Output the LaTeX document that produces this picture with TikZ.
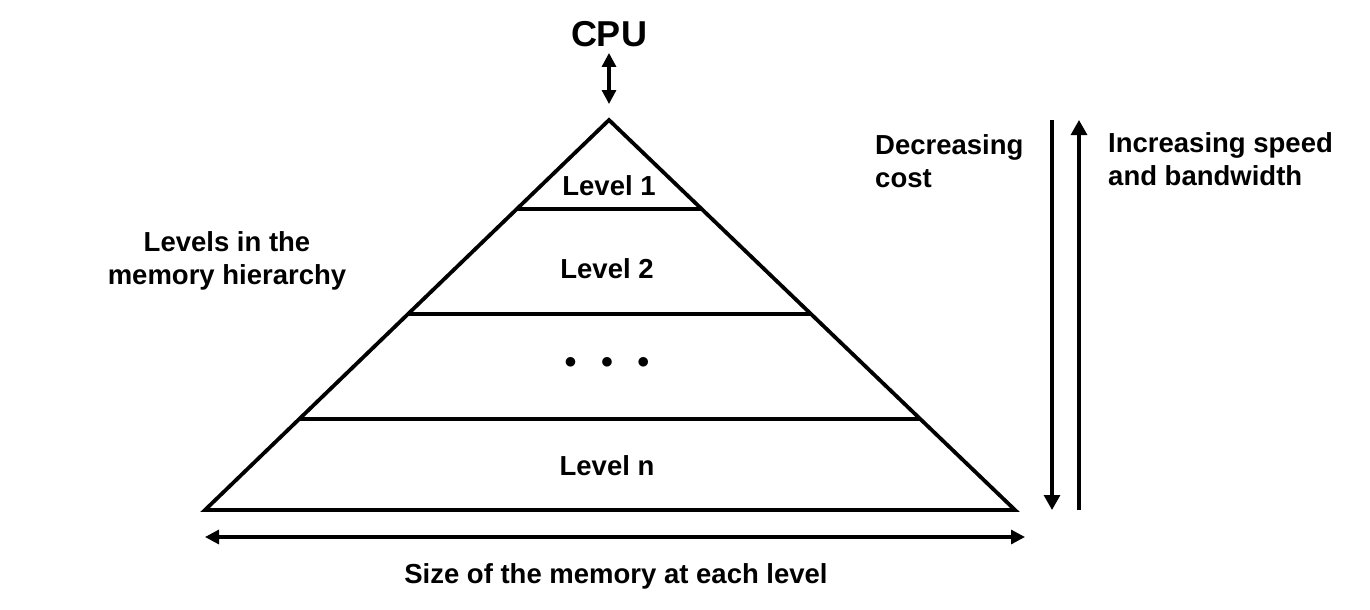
\documentclass[tikz,border=0pt]{standalone}
\usepackage{fontspec}
\setmainfont{Liberation Sans}
\usetikzlibrary{arrows.meta,calc}

\begin{document}
\begin{tikzpicture}[
  x=1pt,y=-1pt,
  lbl/.style={font=\fontsize{27.5}{33}\selectfont\bfseries,inner sep=0pt},
  edge/.style={line width=3.8pt},
  arrow/.style={line width=3.2pt,-{Triangle[length=15pt,width=16pt]}},
  twoway/.style={line width=3.2pt,{Triangle[length=14pt,width=14pt]}-{Triangle[length=14pt,width=14pt]}}
]
\useasboundingbox (0,0) rectangle (1370,610);
\coordinate (apex) at (609,120);
\coordinate (bl) at (205,510);
\coordinate (br) at (1015,510);
\draw[edge,line join=miter] (apex) -- (bl) -- (br) -- cycle;
\foreach \t in {0.228,0.497,0.767}
  \draw[edge] ($(apex)!\t!(bl)$) -- ($(apex)!\t!(br)$);
\node[lbl,font=\fontsize{36}{40}\selectfont\bfseries] (cpu) at (609,34) {CPU};
\node[lbl] (l1) at (609,186) {Level 1};
\node[lbl] (l2) at (607,269) {Level 2};
\node[lbl] (dots) at (607,363) {$\bullet$\hspace{24pt}$\bullet$\hspace{24pt}$\bullet$};
\node[lbl] (ln) at (607,466) {Level n};
\node[lbl,align=center] (levels) at (227,261) {Levels in the\\memory hierarchy};
\node[lbl,align=left,anchor=west] (cost) at (875,161) {Decreasing\\cost};
\node[lbl,align=left,anchor=west] (speed) at (1108,159) {Increasing speed\\and bandwidth};
\node[lbl] (size) at (616,576) {Size of the memory at each level};
\coordinate (costtop) at (1052,120);
\coordinate (costbot) at (1052,510);
\coordinate (speedbot) at (1079,510);
\coordinate (speedtop) at (1079,120);
\coordinate (sizeleft) at (205,537);
\coordinate (sizeright) at (1025,537);
\draw[twoway,shorten <=6pt,shorten >=16pt] (cpu) -- (apex);
\draw[arrow] (costtop) -- (costbot);
\draw[arrow] (speedbot) -- (speedtop);
\draw[twoway] (sizeleft) -- (sizeright);
\end{tikzpicture}
\end{document}
